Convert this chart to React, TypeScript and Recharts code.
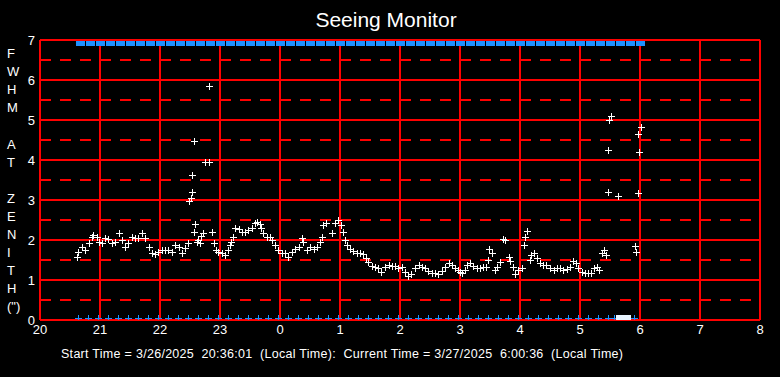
import React from 'react';
import { ScatterChart, Scatter, XAxis, YAxis, CartesianGrid, ReferenceLine } from 'recharts';

// ---------- data ----------
const hourTicks = [20, 21, 22, 23, 24, 25, 26, 27, 28, 29, 30, 31, 32];
const fwhmTicks = [0, 1, 2, 3, 4, 5, 6, 7];
const halfTicks = [0.5, 1.5, 2.5, 3.5, 4.5, 5.5, 6.5];

// decimal hours since midnight of 3/26 (24+ = next day)
const seeingTimes = [
  20.62, 20.64, 20.70, 20.75, 20.81, 20.86, 20.89, 20.95, 20.99, 21.03, 21.08, 21.14, 21.20, 21.25, 21.31,
  21.36, 21.42, 21.47, 21.53, 21.58, 21.64, 21.70, 21.75, 21.81, 21.86, 21.92, 21.97, 22.03, 22.08, 22.14,
  22.20, 22.25, 22.31, 22.36, 22.42, 22.47, 22.49, 22.51, 22.53, 22.54, 22.56, 22.57, 22.58, 22.62, 22.64,
  22.67, 22.69, 22.72, 22.75, 22.81, 22.82, 22.86, 22.90, 22.93, 22.97, 23.03, 23.08, 23.14, 23.16, 23.18,
  23.21, 23.25, 23.31, 23.36, 23.42, 23.47, 23.53, 23.58, 23.61, 23.66, 23.68, 23.72, 23.78, 23.83, 23.86,
  23.92, 23.97, 24.03, 24.08, 24.14, 24.20, 24.25, 24.31, 24.36, 24.39, 24.45, 24.50, 24.56, 24.61, 24.66,
  24.70, 24.72, 24.77, 24.86, 24.92, 24.97, 25.01, 25.05, 25.08, 25.11, 25.17, 25.22, 25.28, 25.33, 25.39,
  25.43, 25.47, 25.53, 25.58, 25.64, 25.69, 25.75, 25.81, 25.86, 25.92, 25.97, 26.03, 26.08, 26.14, 26.19,
  26.25, 26.31, 26.36, 26.42, 26.47, 26.53, 26.58, 26.64, 26.70, 26.75, 26.81, 26.86, 26.92, 26.97, 27.00,
  27.04, 27.08, 27.12, 27.17, 27.22, 27.28, 27.33, 27.39, 27.43, 27.46, 27.49, 27.54, 27.58, 27.61, 27.66,
  27.71, 27.75, 27.81, 27.83, 27.89, 27.92, 27.97, 28.03, 28.07, 28.08, 28.12, 28.16, 28.19, 28.24, 28.28,
  28.33, 28.39, 28.44, 28.50, 28.56, 28.61, 28.67, 28.72, 28.78, 28.83, 28.89, 28.94, 28.97, 29.03, 29.08,
  29.14, 29.19, 29.24, 29.28, 29.32, 29.36, 29.40, 29.43, 29.46, 29.47, 29.49, 29.51, 29.64, 29.92, 29.94,
  29.96, 29.97, 29.99, 30.01,
];
const seeingFwhm = [
  1.57, 1.71, 1.83, 1.75, 1.92, 2.08, 2.12, 2.07, 1.96, 1.92, 2.04, 2.02, 1.92, 1.96, 2.17,
  2.00, 1.83, 1.92, 2.08, 2.06, 2.04, 2.17, 2.04, 1.83, 1.67, 1.65, 1.71, 1.75, 1.75, 1.75,
  1.71, 1.87, 1.83, 1.67, 1.79, 1.92, 2.97, 3.04, 3.21, 3.62, 4.47, 2.19, 2.40, 1.95, 2.00,
  1.92, 2.10, 2.17, 3.94, 3.94, 5.85, 2.19, 1.92, 1.75, 1.71, 1.67, 1.62, 1.75, 1.87, 1.96,
  2.08, 2.29, 2.27, 2.21, 2.19, 2.25, 2.29, 2.42, 2.46, 2.40, 2.29, 2.17, 2.08, 2.08, 2.00,
  1.87, 1.75, 1.68, 1.67, 1.58, 1.71, 1.77, 1.83, 2.04, 1.96, 1.75, 1.83, 1.77, 1.83, 1.96,
  2.08, 2.37, 2.42, 2.17, 2.42, 2.50, 2.37, 2.21, 2.00, 1.87, 1.77, 1.73, 1.68, 1.67, 1.65,
  1.54, 1.46, 1.35, 1.33, 1.29, 1.21, 1.33, 1.37, 1.36, 1.35, 1.29, 1.33, 1.21, 1.10, 1.15,
  1.29, 1.37, 1.33, 1.29, 1.22, 1.18, 1.17, 1.15, 1.23, 1.33, 1.43, 1.37, 1.29, 1.25, 1.21,
  1.17, 1.25, 1.37, 1.42, 1.35, 1.29, 1.29, 1.33, 1.33, 1.50, 1.77, 1.68, 1.25, 1.33, 1.46,
  2.02, 2.00, 1.58, 1.47, 1.33, 1.15, 1.25, 1.29, 1.87, 2.07, 2.23, 1.50, 1.62, 1.68, 1.54,
  1.42, 1.37, 1.37, 1.29, 1.25, 1.29, 1.29, 1.25, 1.27, 1.33, 1.48, 1.42, 1.29, 1.21, 1.17,
  1.18, 1.17, 1.29, 1.33, 1.25, 1.67, 1.75, 1.62, 3.19, 4.25, 5.00, 5.11, 3.11, 1.85, 1.71,
  3.17, 4.64, 4.21, 4.82,
];

// status markers (clock times)
const topStatusTimes = [
  '20:40', '20:50', '21:00', '21:10', '21:20', '21:30', '21:40', '21:50', '22:00', '22:10',
  '22:20', '22:30', '22:40', '22:50', '23:00', '23:10', '23:20', '23:30', '23:40', '23:50',
  '00:00', '00:10', '00:20', '00:30', '00:40', '00:50', '01:00', '01:10', '01:20', '01:30',
  '01:40', '01:50', '02:00', '02:10', '02:20', '02:30', '02:40', '02:50', '03:00', '03:10',
  '03:20', '03:30', '03:40', '03:50', '04:00', '04:10', '04:20', '04:30', '04:40', '04:50',
  '05:00', '05:10', '05:20', '05:30', '05:40', '05:50', '06:00',
];
const topStatusValue = 7;

const bottomStatusTimes = [
  '20:38', '20:48', '20:58', '21:08', '21:18', '21:28', '21:38', '21:48', '21:58', '22:08',
  '22:18', '22:28', '22:38', '22:48', '22:58', '23:08', '23:18', '23:28', '23:38', '23:48',
  '23:58', '00:08', '00:18', '00:28', '00:38', '00:48', '00:58', '01:08', '01:18', '01:28',
  '01:38', '01:48', '01:58', '02:08', '02:18', '02:28', '02:38', '02:48', '02:58', '03:08',
  '03:18', '03:28', '03:38', '03:48', '03:58', '04:08', '04:18', '04:28', '04:38', '04:48',
  '04:58', '05:08', '05:18', '05:28', '05:34', '05:43', '05:54',
];
const bottomFlagTimes = ['05:40', '05:47'];
const bottomStatusValue = 0;

const yLabelChars = ['F', 'W', 'H', 'M', '', 'A', 'T', '', 'Z', 'E', 'N', 'I', 'T', 'H', '(")'];
const titleText = 'Seeing Monitor';
const footerText =
  'Start Time = 3/26/2025  20:36:01  (Local Time):  Current Time = 3/27/2025  6:00:36  (Local Time)';

// ---------- helpers ----------
const toHours = (s: string) => {
  const [h, m] = s.split(':').map(Number);
  const v = h + m / 60;
  return h < 12 ? v + 24 : v;
};

const seeingData = seeingTimes.map((t, i) => ({ t, v: seeingFwhm[i] }));
const topData = topStatusTimes.map((s) => ({ t: toHours(s), v: topStatusValue }));
const bottomData = bottomStatusTimes.map((s) => ({ t: toHours(s), v: bottomStatusValue }));
const flagData = bottomFlagTimes.map((s) => ({ t: toHours(s), v: bottomStatusValue }));

const RED = '#ff0000';
const BLUE = '#1e90ff';
const FONT = "'Liberation Sans', Arial, sans-serif";

const makeCross = (color: string, dy: number) => (props: any) => {
  const { cx, cy } = props;
  if (cx == null || cy == null) return <g />;
  const px = Math.round(cx);
  const py = Math.round(cy + dy);
  return (
    <path
      d={`M${px - 3},${py + 0.5}H${px + 4}M${px + 0.5},${py - 3}V${py + 4}`}
      stroke={color}
      strokeWidth={1}
      fill="none"
    />
  );
};

const TopSquare = (props: any) => {
  const { cx, cy } = props;
  if (cx == null || cy == null) return <g />;
  return <rect x={Math.round(cx) - 4} y={Math.round(cy) + 1} width={9} height={5} fill={BLUE} />;
};

const FlagSquare = (props: any) => {
  const { cx, cy } = props;
  if (cx == null || cy == null) return <g />;
  return <rect x={Math.round(cx) - 4} y={Math.round(cy) - 5} width={8} height={5} fill="#e8f4ff" />;
};

const tickStyle = { fill: '#ffffff', fontSize: 13, fontFamily: FONT };

export default function App() {
  return (
    <div
      style={{
        position: 'fixed',
        left: 0,
        top: 0,
        width: 780,
        height: 377,
        background: '#000000',
        overflow: 'hidden',
      }}
    >
      <ScatterChart
        width={780}
        height={377}
        margin={{ top: 40, right: 20, bottom: 0, left: 0 }}
        style={{ position: 'absolute', left: 0, top: 0 }}
      >
        <CartesianGrid stroke={RED} strokeWidth={2} fill="none" />
        {halfTicks.map((h) => (
          <ReferenceLine key={h} y={h} stroke={RED} strokeWidth={2} strokeDasharray="11 9" />
        ))}
        <XAxis
          type="number"
          dataKey="t"
          domain={[20, 32]}
          ticks={hourTicks}
          interval={0}
          allowDataOverflow
          tickFormatter={(v: number) => String(v % 24)}
          tick={tickStyle}
          tickLine={false}
          axisLine={false}
          tickSize={0}
          tickMargin={5}
          height={57}
        />
        <YAxis
          type="number"
          dataKey="v"
          domain={[0, 7]}
          ticks={fwhmTicks}
          interval={0}
          allowDataOverflow
          tick={tickStyle}
          tickLine={false}
          axisLine={false}
          tickSize={0}
          tickMargin={5}
          width={40}
        />
        <Scatter data={topData} shape={TopSquare} isAnimationActive={false} />
        <Scatter data={bottomData} shape={makeCross(BLUE, -2.5)} isAnimationActive={false} />
        <Scatter data={flagData} shape={FlagSquare} isAnimationActive={false} />
        <Scatter data={seeingData} shape={makeCross('#ffffff', 0)} isAnimationActive={false} />
      </ScatterChart>
      <svg
        width={780}
        height={377}
        style={{ position: 'absolute', left: 0, top: 0, pointerEvents: 'none' }}
      >
        <text x={386} y={27} textAnchor="middle" fill="#ffffff" fontSize={21} fontFamily={FONT}>
          {titleText}
        </text>
        {yLabelChars.map((c, i) =>
          c ? (
            <text key={i} x={7} y={58 + i * 18.1} fill="#ffffff" fontSize={13} fontFamily={FONT}>
              {c}
            </text>
          ) : null
        )}
        <text
          x={61}
          y={358}
          fill="#ffffff"
          fontSize={12.5}
          fontFamily={FONT}
          textLength={562}
          lengthAdjust="spacing"
          style={{ whiteSpace: 'pre' }}
        >
          {footerText}
        </text>
      </svg>
    </div>
  );
}
